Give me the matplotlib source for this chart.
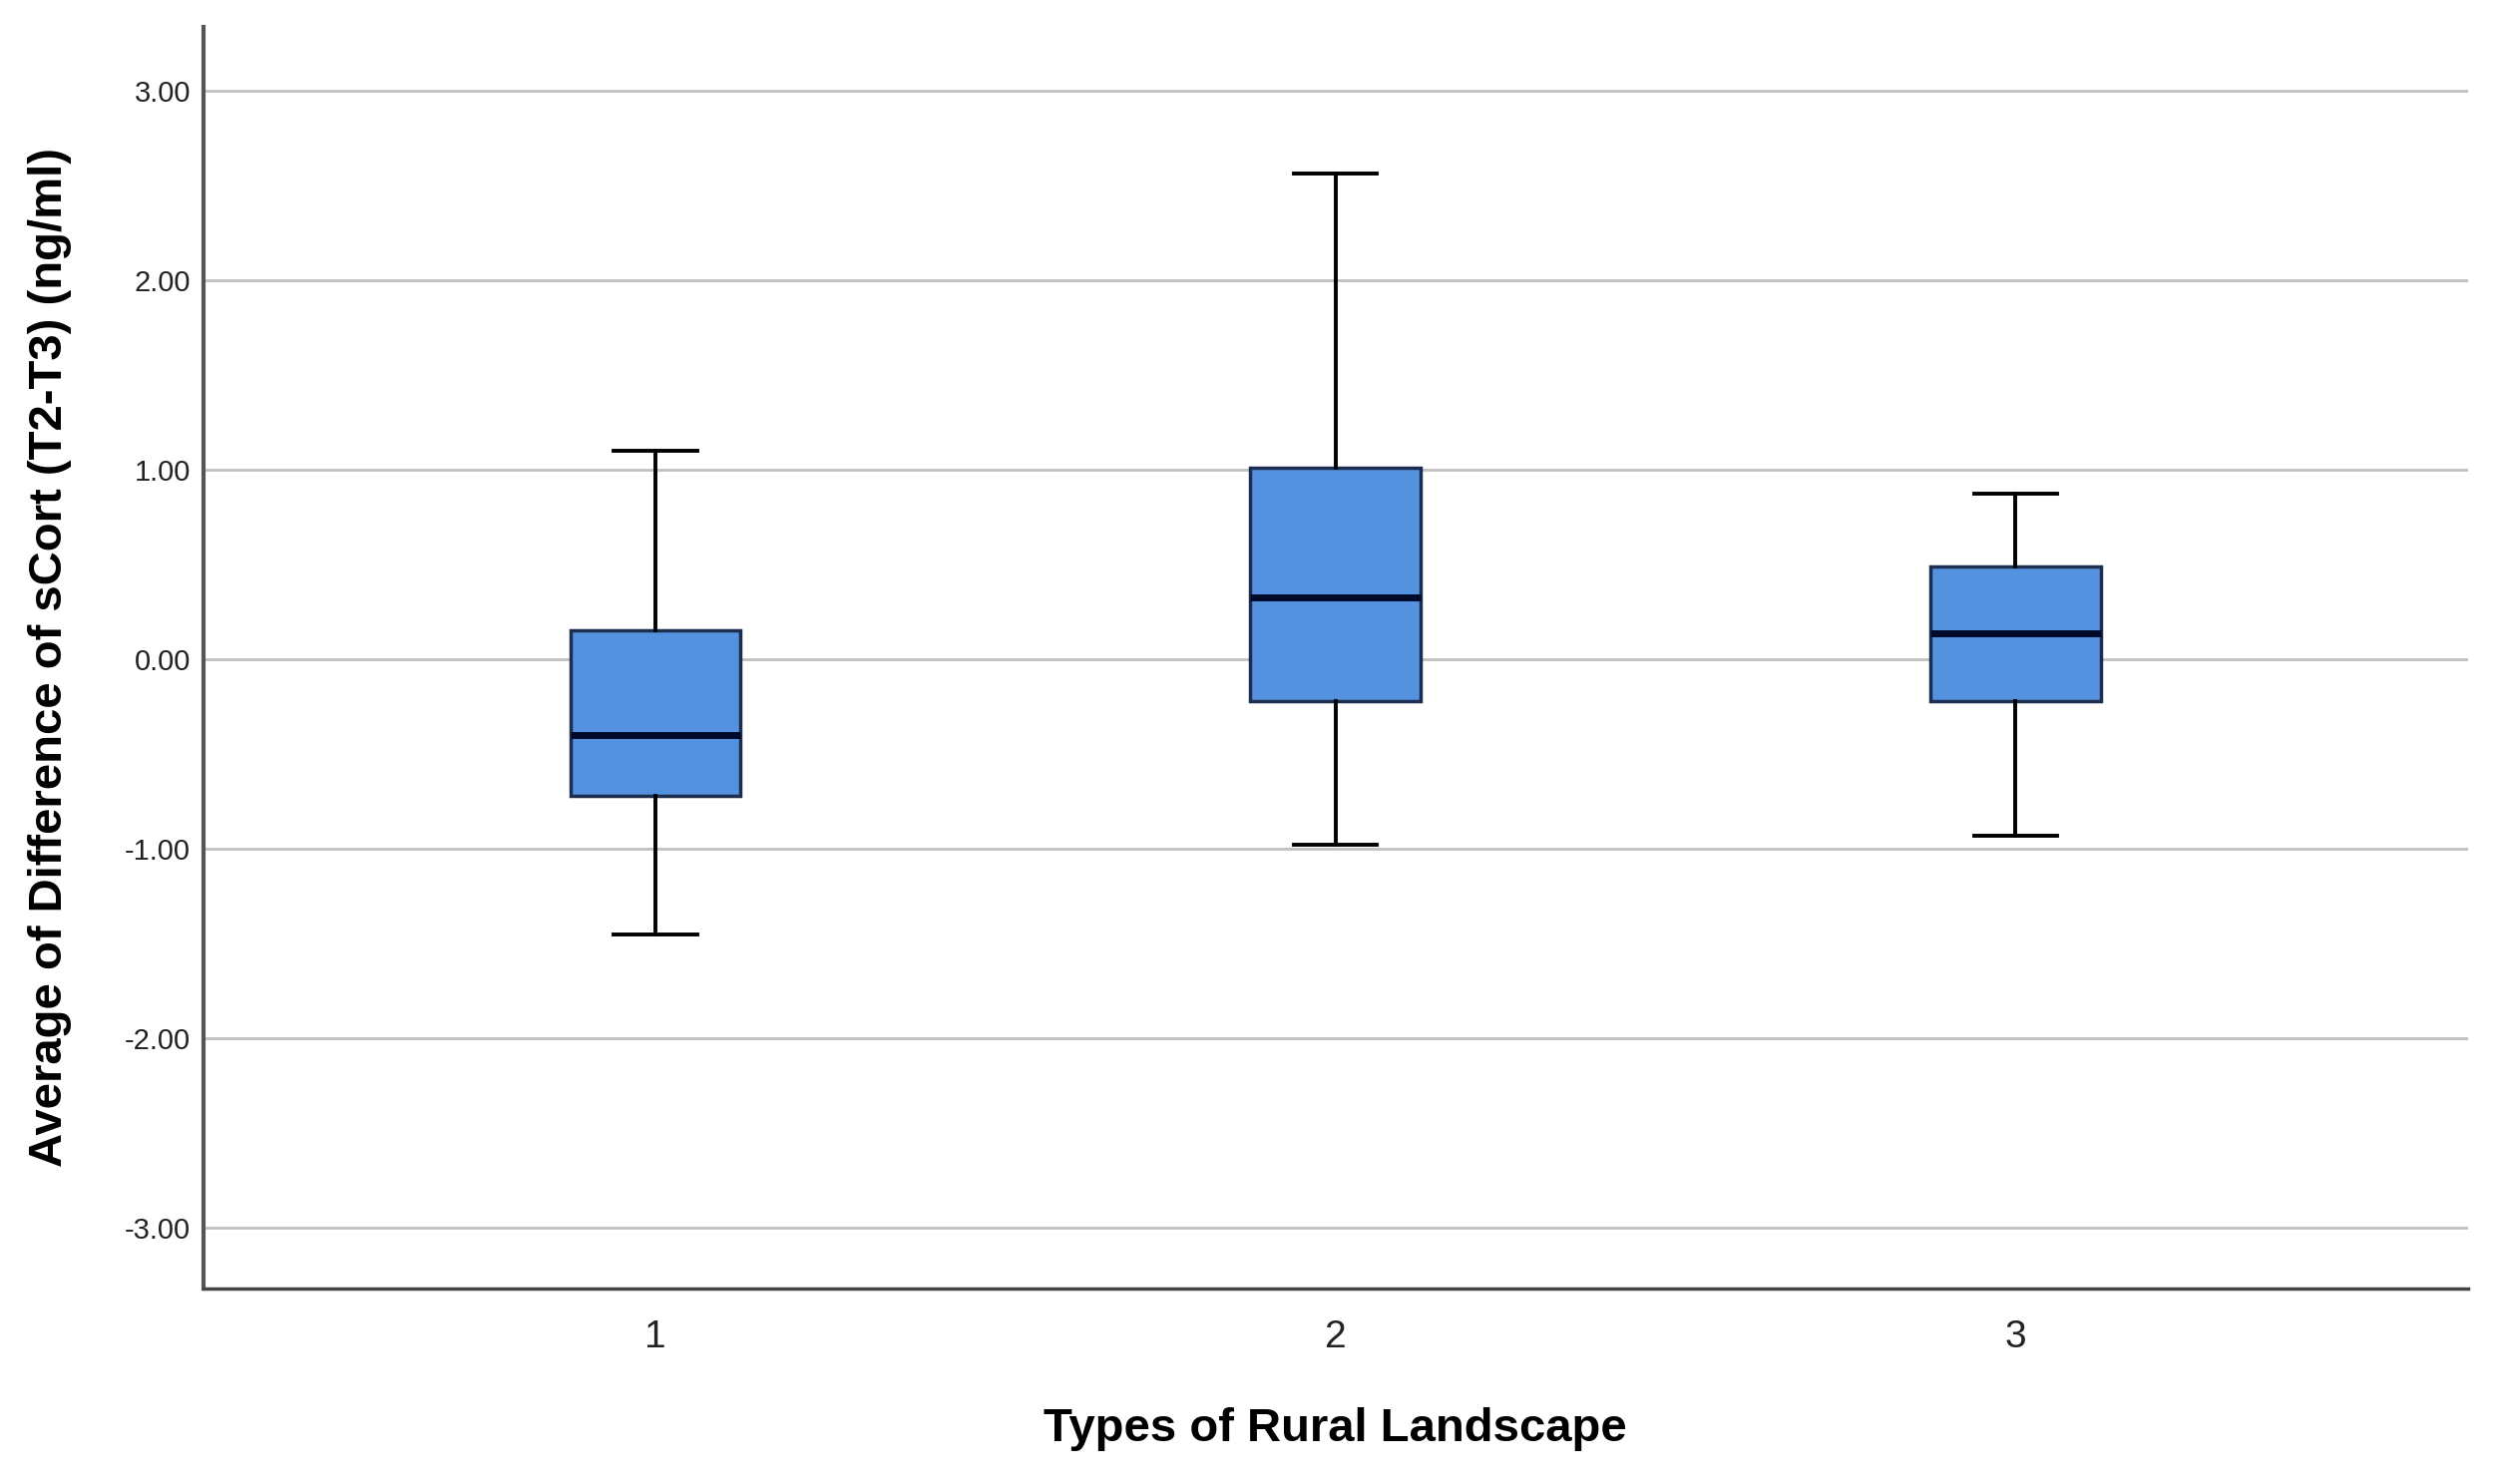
import matplotlib
matplotlib.use("Agg")
import matplotlib.pyplot as plt

categories = ["1", "2", "3"]
whislo = [-1.45, -0.98, -0.93]
q1 = [-0.72, -0.22, -0.22]
med = [-0.40, 0.33, 0.14]
q3 = [0.155, 1.01, 0.49]
whishi = [1.10, 2.565, 0.877]
yticks = [3.0, 2.0, 1.0, 0.0, -1.0, -2.0, -3.0]

plt.rcParams['font.family'] = ['Liberation Sans', 'DejaVu Sans']

fig = plt.figure(figsize=(25.14, 14.88), dpi=100)
ax = fig.add_axes([0.081, 0.1317, 0.903, 0.8503])

stats = []
for i, c in enumerate(categories):
    stats.append(dict(label=c, whislo=whislo[i], q1=q1[i], med=med[i],
                      q3=q3[i], whishi=whishi[i], fliers=[]))

ax.bxp(stats, positions=[1, 2, 3], widths=0.25, capwidths=0.122,
       patch_artist=True, showfliers=False,
       boxprops=dict(facecolor='#5492E0', edgecolor='#1c2d4f', linewidth=2.5),
       medianprops=dict(color='#000a2a', linewidth=5, solid_capstyle='butt'),
       whiskerprops=dict(color='black', linewidth=2.8),
       capprops=dict(color='black', linewidth=2.8), zorder=3)

ax.set_xlim(0.335, 3.665)
ax.set_ylim(-3.32, 3.34)
ax.set_yticks(yticks)
ax.set_yticklabels([f"{v:.2f}" for v in yticks], fontsize=21, color='#222222')
ax.set_xticks([1, 2, 3])
ax.set_xticklabels(categories, fontsize=28, color='#222222')
ax.tick_params(axis='both', length=0)
ax.tick_params(axis='y', pad=9)
ax.tick_params(axis='x', pad=22)
ax.yaxis.grid(True, color='#c0c0c0', linewidth=2)
ax.set_axisbelow(True)
for s in ['top', 'right']:
    ax.spines[s].set_visible(False)
ax.spines['left'].set_color('#555555')
ax.spines['left'].set_linewidth(3)
ax.spines['bottom'].set_color('#444444')
ax.spines['bottom'].set_linewidth(2.5)

ax.set_xlabel("Types of Rural Landscape", fontsize=34, fontweight='bold', labelpad=38)
ax.set_ylabel("Average of Difference of sCort (T2-T3) (ng/ml)",
              family=['Liberation Sans Narrow', 'Liberation Sans', 'DejaVu Sans'],
              fontsize=34, fontweight='bold', labelpad=38)

fig.savefig("out.png", dpi=100, facecolor='white')
